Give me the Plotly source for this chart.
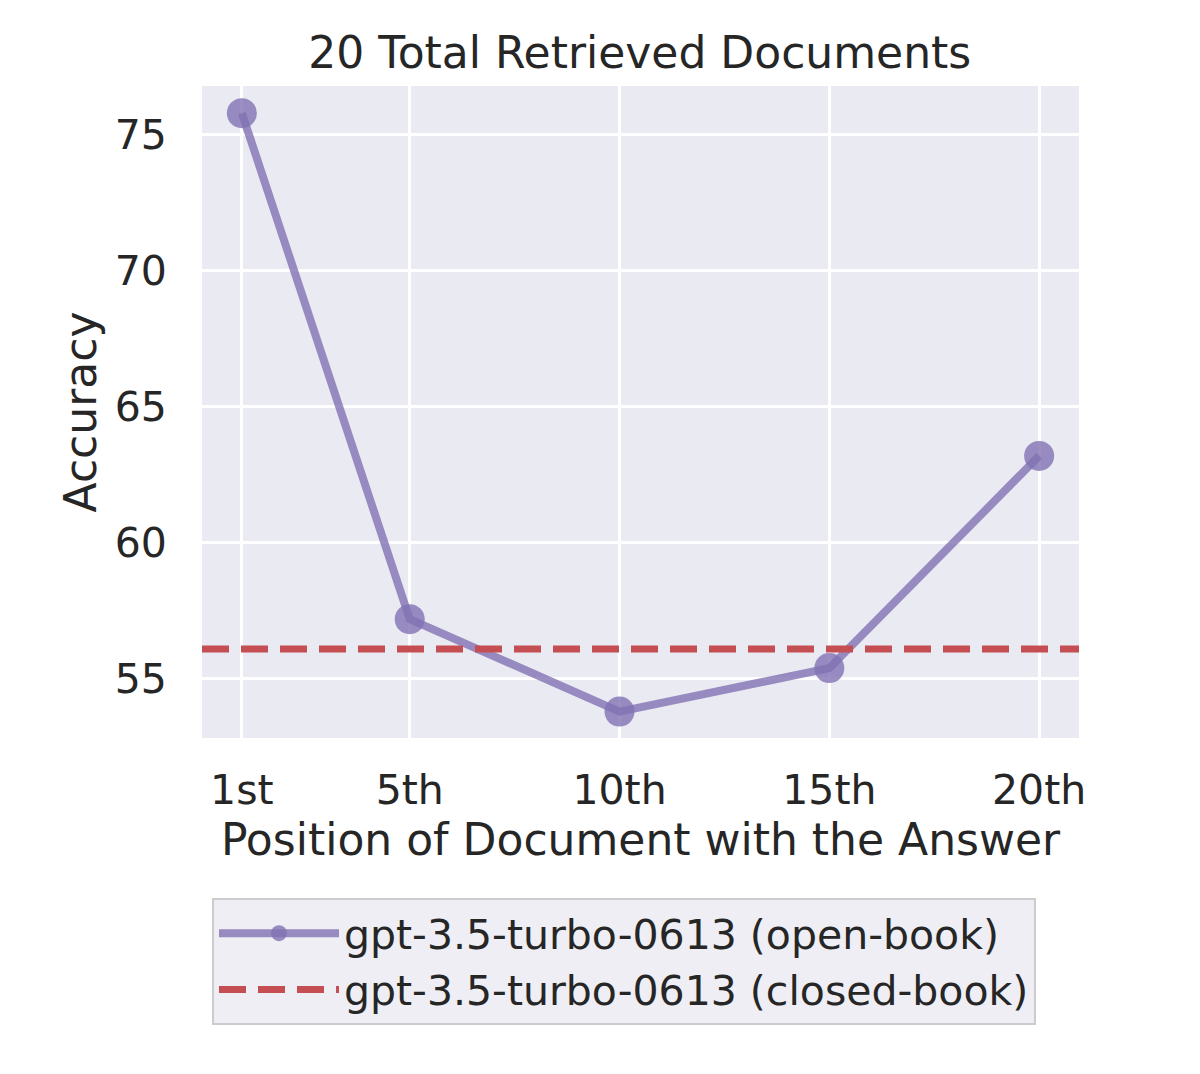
import plotly.graph_objects as go

positions = [1, 5, 10, 15, 20]
tick_labels = ["1st", "5th", "10th", "15th", "20th"]
open_book = [75.8, 57.2, 53.8, 55.4, 63.2]
closed_book = 56.1

font = "DejaVu Sans"
purple = "rgba(129,114,179,0.8)"
red = "#c44e52"

fig = go.Figure()

fig.add_trace(go.Scatter(
    x=positions, y=open_book, mode="lines+markers",
    name="gpt-3.5-turbo-0613 (open-book)",
    line=dict(color=purple, width=8),
    marker=dict(size=30, color=purple),
))

fig.add_trace(go.Scatter(
    x=[0.05, 20.95], y=[closed_book, closed_book], mode="lines",
    name="gpt-3.5-turbo-0613 (closed-book)",
    line=dict(color=red, width=7, dash="27px,12px"),
))

# page body adds an 8px margin, so the figure is shrunk by that much
fig.update_layout(
    width=1192, height=1066,
    margin=dict(l=194, r=121, t=78, b=336),
    paper_bgcolor="white",
    plot_bgcolor="#eaeaf2",
    font=dict(family=font, size=37, color="#262626"),
    title=dict(text="20 Total Retrieved Documents", x=0.53, xanchor="center",
               y=0.958, yanchor="middle", font=dict(family=font, size=44)),
    showlegend=True,
    legend=dict(
        x=0.0114, y=-0.2454, xanchor="left", yanchor="top",
        bgcolor="#eeeef4", bordercolor="#cccccc", borderwidth=2,
        font=dict(family=font, size=41), itemwidth=120, tracegroupgap=0,
    ),
)

fig.update_xaxes(
    range=[0.05, 20.95], tickvals=positions, ticktext=tick_labels,
    tickfont=dict(size=41),
    showgrid=True, gridcolor="white", gridwidth=3, zeroline=False,
    ticks="outside", ticklen=16, tickcolor="rgba(0,0,0,0)",
    title=dict(text="Position of Document with the Answer", standoff=4),
)
fig.update_yaxes(
    range=[52.83, 76.8], tickvals=[55, 60, 65, 70, 75],
    tickfont=dict(size=41),
    showgrid=True, gridcolor="white", gridwidth=3, zeroline=False,
    ticks="outside", ticklen=26, tickcolor="rgba(0,0,0,0)",
    title=dict(text="Accuracy", standoff=4),
)

fig.write_html("out.html")
